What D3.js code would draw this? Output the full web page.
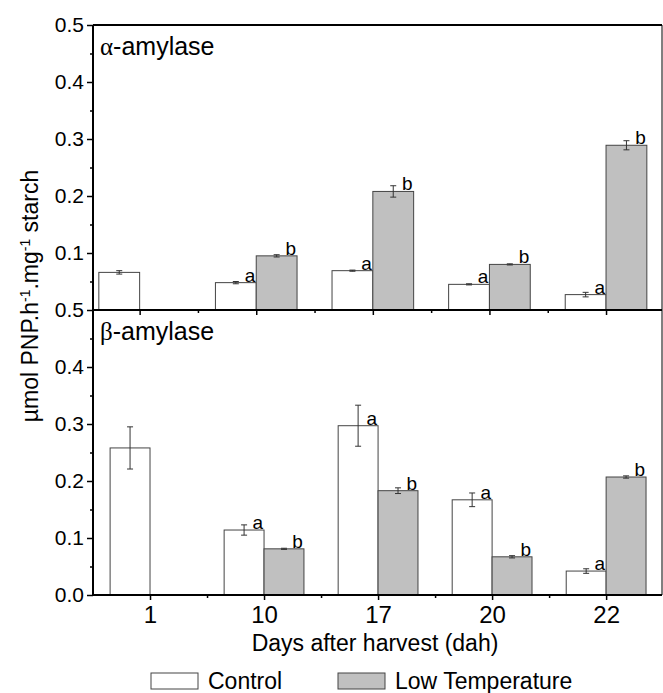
<!DOCTYPE html>
<html>
<head>
<meta charset="utf-8">
<script src="https://cdn.jsdelivr.net/npm/d3@7"></script>
<style>
  body { margin: 0; background: #fff; }
  svg { display: block; }
  text { font-family: "Liberation Sans", Arial, sans-serif; fill: #000; }
  .axis path { display: none; }
  .axis line { stroke: #000; stroke-width: 1.5; }
</style>
</head>
<body>
<div id="chart"></div>
<script>
// data
var days = ["1", "10", "17", "20", "22"];

var alphaControl    = [0.066, 0.048, 0.069, 0.045, 0.027];
var alphaControlErr = [0.003, 0.002, 0.001, 0.001, 0.004];
var alphaLow        = [null, 0.095, 0.208, 0.080, 0.289];
var alphaLowErr     = [null, 0.002, 0.010, 0.001, 0.008];

var betaControl     = [0.258, 0.114, 0.297, 0.167, 0.042];
var betaControlErr  = [0.037, 0.009, 0.036, 0.012, 0.004];
var betaLow         = [null, 0.081, 0.183, 0.067, 0.207];
var betaLowErr      = [null, 0.001, 0.005, 0.002, 0.002];

var controlLetters  = ["", "a", "a", "a", "a"];
var lowLetters      = ["", "b", "b", "b", "b"];

var topTicks    = [0.1, 0.2, 0.3, 0.4, 0.5];
var bottomTicks = [0.0, 0.1, 0.2, 0.3, 0.4, 0.5];
var minorTicks  = [0.05, 0.15, 0.25, 0.35, 0.45];

var width = 663, height = 693;
var left = 93, right = 662;
var barW = 0.35;

var svg = d3.select("#chart").append("svg")
    .attr("width", width)
    .attr("height", height);

function drawPanel(opts) {
    var x = d3.scaleLinear().domain(opts.xDomain).range([left, right]);
    var y = d3.scaleLinear().domain([0, 0.5]).range([opts.bottom, opts.top]);
    var g = svg.append("g");

    // bars
    var rows = days.map(function (d, i) {
        return {i: i, c: opts.control[i], ce: opts.controlErr[i], l: opts.low[i], le: opts.lowErr[i]};
    });

    rows.forEach(function (r) {
        g.append("rect")
            .attr("x", x(r.i - barW))
            .attr("y", y(r.c))
            .attr("width", x(r.i) - x(r.i - barW))
            .attr("height", y(0) - y(r.c))
            .style("fill", "#fff")
            .style("stroke", "#444")
            .style("stroke-width", 1);
        if (r.l != null) {
            g.append("rect")
                .attr("x", x(r.i))
                .attr("y", y(r.l))
                .attr("width", x(r.i + barW) - x(r.i))
                .attr("height", y(0) - y(r.l))
                .style("fill", "#c0c0c0")
                .style("stroke", "#444")
                .style("stroke-width", 1);
        }
    });

    // error bars
    function errBar(cx, v, e) {
        var gg = g.append("g").style("stroke", "#333").style("stroke-width", 1);
        gg.append("line").attr("x1", cx).attr("x2", cx).attr("y1", y(v - e)).attr("y2", y(v + e));
        gg.append("line").attr("x1", cx - 3).attr("x2", cx + 3).attr("y1", y(v - e)).attr("y2", y(v - e));
        gg.append("line").attr("x1", cx - 3).attr("x2", cx + 3).attr("y1", y(v + e)).attr("y2", y(v + e));
    }
    rows.forEach(function (r) {
        errBar(x(r.i - barW / 2), r.c, r.ce);
        if (r.l != null) errBar(x(r.i + barW / 2), r.l, r.le);
    });

    // significance letters
    rows.forEach(function (r) {
        if (controlLetters[r.i]) {
            g.append("text")
                .attr("x", x(r.i) - 1)
                .attr("y", y(r.c) - 1)
                .attr("text-anchor", "end")
                .style("font-size", "19px")
                .text(controlLetters[r.i]);
        }
        if (r.l != null && lowLetters[r.i]) {
            g.append("text")
                .attr("x", x(r.i + barW) - 1)
                .attr("y", y(r.l) - 1)
                .attr("text-anchor", "end")
                .style("font-size", "19px")
                .text(lowLetters[r.i]);
        }
    });

    // y axis, major + minor
    g.append("g")
        .attr("class", "axis")
        .attr("transform", "translate(" + left + ",0)")
        .call(d3.axisLeft(y).tickValues(opts.ticks).tickSize(6).tickPadding(3).tickFormat(d3.format(".1f")))
        .selectAll("text")
        .style("font-size", "21px");
    g.append("g")
        .attr("class", "axis")
        .attr("transform", "translate(" + left + ",0)")
        .call(d3.axisLeft(y).tickValues(minorTicks).tickSize(3).tickFormat(""));

    // x axis, major + minor
    var xa = g.append("g")
        .attr("class", "axis")
        .attr("transform", "translate(0," + opts.bottom + ")")
        .call(d3.axisBottom(x).tickValues(d3.range(days.length)).tickSize(5).tickPadding(6)
            .tickFormat(function (i) { return opts.showX ? days[i] : ""; }));
    xa.selectAll("text").style("font-size", "24px");
    g.append("g")
        .attr("class", "axis")
        .attr("transform", "translate(0," + opts.bottom + ")")
        .call(d3.axisBottom(x).tickValues(d3.range(days.length - 1).map(function (i) { return i + 0.5; }))
            .tickSize(3).tickFormat(""));

    // frame
    var frame = g.append("g").style("stroke", "#000").style("fill", "none");
    frame.append("line").attr("x1", left).attr("x2", right).attr("y1", opts.top).attr("y2", opts.top).style("stroke-width", 2);
    frame.append("line").attr("x1", left).attr("x2", right).attr("y1", opts.bottom).attr("y2", opts.bottom).style("stroke-width", 2);
    frame.append("line").attr("x1", left).attr("x2", left).attr("y1", opts.top).attr("y2", opts.bottom).style("stroke-width", 2);
    frame.append("line").attr("x1", right).attr("x2", right).attr("y1", opts.top).attr("y2", opts.bottom).style("stroke-width", 1);

    // panel name
    var t = g.append("text")
        .attr("x", left + 7)
        .attr("y", opts.top + 30)
        .style("font-size", "25px");
    t.append("tspan").style("font-family", "'Liberation Serif', serif").text(opts.greek);
    t.append("tspan").text("-amylase");
}

drawPanel({
    top: 25, bottom: 310, xDomain: [-0.4, 4.48],
    control: alphaControl, controlErr: alphaControlErr, low: alphaLow, lowErr: alphaLowErr,
    ticks: topTicks, showX: false, greek: "\u03b1"
});

drawPanel({
    top: 310, bottom: 595, xDomain: [-0.5, 4.49],
    control: betaControl, controlErr: betaControlErr, low: betaLow, lowErr: betaLowErr,
    ticks: bottomTicks, showX: true, greek: "\u03b2"
});

// y axis title
var yt = svg.append("text")
    .attr("transform", "translate(38,296) rotate(-90)")
    .attr("text-anchor", "middle")
    .style("font-size", "23px");
yt.append("tspan").text("\u00b5mol PNP.h");
yt.append("tspan").attr("dy", -8).style("font-size", "14px").text("-1");
yt.append("tspan").attr("dy", 8).text(".mg");
yt.append("tspan").attr("dy", -8).style("font-size", "14px").text("-1");
yt.append("tspan").attr("dy", 8).text(" starch");

// x axis title
svg.append("text")
    .attr("x", 375)
    .attr("y", 651)
    .attr("text-anchor", "middle")
    .style("font-size", "23px")
    .text("Days after harvest (dah)");

// legend
var legendItems = [
    {name: "Control", fill: "#fff", x: 151},
    {name: "Low Temperature", fill: "#c0c0c0", x: 338}
];
var legend = svg.append("g");
legendItems.forEach(function (d) {
    legend.append("rect")
        .attr("x", d.x)
        .attr("y", 673)
        .attr("width", 47)
        .attr("height", 16)
        .style("fill", d.fill)
        .style("stroke", "#444");
    legend.append("text")
        .attr("x", d.x + 57)
        .attr("y", 689)
        .style("font-size", "23px")
        .text(d.name);
});
</script>
</body>
</html>
